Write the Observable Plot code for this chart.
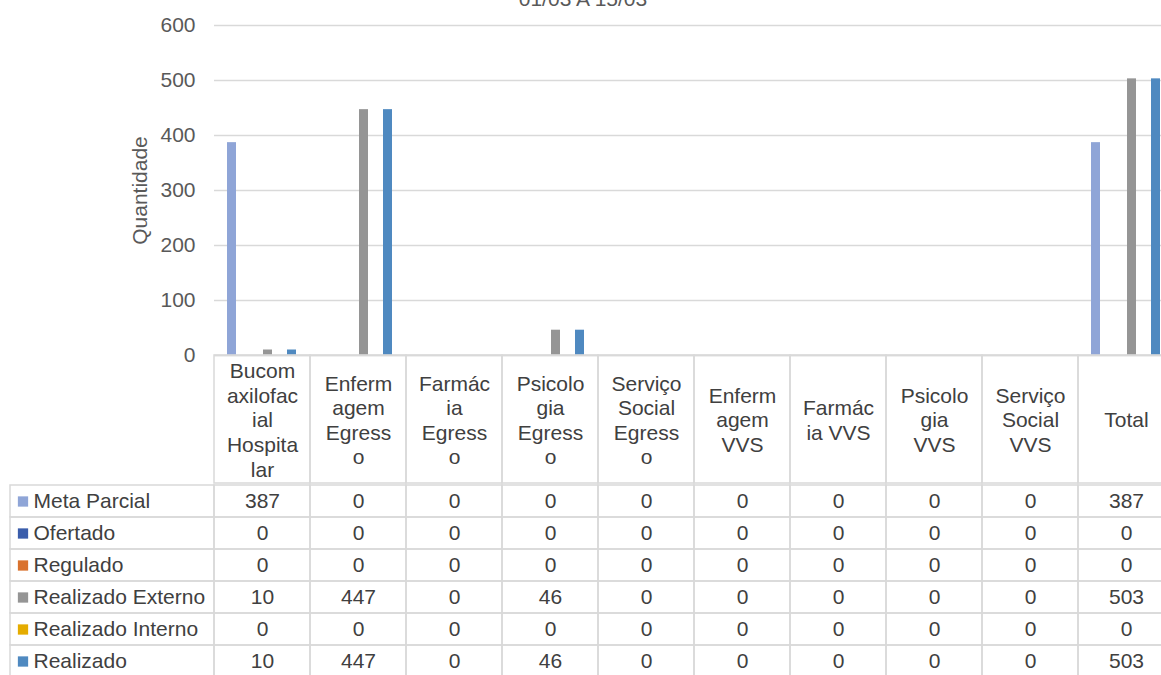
<!DOCTYPE html>
<html>
<head>
<meta charset="utf-8">
<script src="https://cdn.jsdelivr.net/npm/d3@7"></script>
<script src="https://cdn.jsdelivr.net/npm/@observablehq/plot@0.6"></script>
<style>
  html, body { margin: 0; padding: 0; background: #fff; overflow: hidden; }
  body { width: 1161px; height: 675px; position: relative; font-family: "Liberation Sans", Arial, sans-serif; }
  .part { position: absolute; }
  svg { overflow: visible; max-width: none !important; }
  #title { position: absolute; top: -13px; left: 0; width: 1166px; text-align: center; font-size: 21px; line-height: 24px; color: #595959; }
</style>
</head>
<body>
<div id="title">01/03 A 15/03</div>
<div id="chart" class="part" style="left:0;top:0"></div>
<div id="header" class="part" style="left:214px;top:355px"></div>
<div id="labels" class="part" style="left:10px;top:483px"></div>
<div id="body" class="part" style="left:214px;top:483px"></div>
<script>
const categories = ["Bucomaxilofacial Hospitalar", "Enfermagem Egresso", "Farmácia Egresso", "Psicologia Egresso", "Serviço Social Egresso", "Enfermagem VVS", "Farmácia VVS", "Psicologia VVS", "Serviço Social VVS", "Total"];
const headerLabels = ["Bucom\naxilofac\nial\nHospita\nlar", "Enferm\nagem\nEgress\no", "Farmác\nia\nEgress\no", "Psicolo\ngia\nEgress\no", "Serviço\nSocial\nEgress\no", "Enferm\nagem\nVVS", "Farmác\nia VVS", "Psicolo\ngia\nVVS", "Serviço\nSocial\nVVS", "Total"];
const series = ["Meta Parcial", "Ofertado", "Regulado", "Realizado Externo", "Realizado Interno", "Realizado"];
const colors = ["#8FA5D7", "#3A5DAB", "#D9722E", "#959595", "#E5AC00", "#4F89C0"];
const metaParcial      = [387, 0, 0, 0, 0, 0, 0, 0, 0, 387];
const ofertado         = [0, 0, 0, 0, 0, 0, 0, 0, 0, 0];
const regulado         = [0, 0, 0, 0, 0, 0, 0, 0, 0, 0];
const realizadoExterno = [10, 447, 0, 46, 0, 0, 0, 0, 0, 503];
const realizadoInterno = [0, 0, 0, 0, 0, 0, 0, 0, 0, 0];
const realizado        = [10, 447, 0, 46, 0, 0, 0, 0, 0, 503];
const yTicks = [0, 100, 200, 300, 400, 500, 600];
const titleText = "01/03 A 15/03";
const yLabel = "Quantidade";

const seriesValues = [metaParcial, ofertado, regulado, realizadoExterno, realizadoInterno, realizado];
const rows = series.flatMap((s, si) => categories.map((c, ci) => ({series: s, category: c, value: seriesValues[si][ci]})));

const font = '"Liberation Sans", Arial, sans-serif';
const gridColor = "#d9d9d9";
const textColor = "#404040";

const chart = Plot.plot({
  width: 1174, height: 355,
  marginLeft: 214, marginRight: 0, marginTop: 25, marginBottom: 0,
  style: {fontFamily: font, fontSize: "21px", background: "transparent", overflow: "visible"},
  fx: {domain: categories, padding: 0, axis: null},
  x: {domain: series, paddingInner: 0.22, paddingOuter: 0.86, axis: null},
  y: {domain: [0, 600]},
  color: {domain: series, range: colors},
  marks: [
    Plot.gridY(yTicks, {stroke: gridColor, strokeOpacity: 1, strokeWidth: 1.3}),
    Plot.axisY(yTicks, {tickSize: 0, tickPadding: 19, fontSize: 21, color: "#595959", label: yLabel, labelAnchor: "center", labelOffset: 82, labelArrow: "none"}),
    Plot.barY(rows, {fx: "category", x: "series", y: "value", fill: "series"}),
    Plot.ruleY([0], {stroke: gridColor, strokeWidth: 1.5})
  ]
});
document.getElementById("chart").append(chart);

const header = Plot.plot({
  width: 960, height: 128, margin: 0,
  style: {fontFamily: font, background: "transparent", overflow: "visible"},
  x: {domain: categories, padding: 0, axis: null},
  marks: [
    Plot.cell(categories, {x: d => d, fill: "none", stroke: gridColor, strokeWidth: 1.5}),
    Plot.text(categories, {x: d => d, text: (d, i) => headerLabels[i], fontSize: 21, lineHeight: 1.17, fill: textColor})
  ]
});
document.getElementById("header").append(header);

const labels = Plot.plot({
  width: 204, height: 196, margin: 0,
  style: {fontFamily: font, background: "transparent", overflow: "visible"},
  y: {domain: series, padding: 0, axis: null},
  color: {domain: series, range: colors},
  marks: [
    Plot.cell(series, {y: d => d, fill: "none", stroke: gridColor, strokeWidth: 1.5}),
    Plot.dot(series, {y: d => d, frameAnchor: "left", dx: 12.5, symbol: "square", r: 5.8, fill: d => d}),
    Plot.text(series, {y: d => d, text: d => d, frameAnchor: "left", textAnchor: "start", dx: 23, fontSize: 21, fill: textColor})
  ]
});
document.getElementById("labels").append(labels);

const body = Plot.plot({
  width: 960, height: 196, margin: 0,
  style: {fontFamily: font, background: "transparent", overflow: "visible"},
  x: {domain: categories, padding: 0, axis: null},
  y: {domain: series, padding: 0, axis: null},
  marks: [
    Plot.cell(rows, {x: "category", y: "series", fill: "none", stroke: gridColor, strokeWidth: 1.5}),
    Plot.text(rows, {x: "category", y: "series", text: d => String(d.value), fontSize: 21, fill: textColor})
  ]
});
document.getElementById("body").append(body);
document.getElementById("title").textContent = titleText;
</script>
</body>
</html>
